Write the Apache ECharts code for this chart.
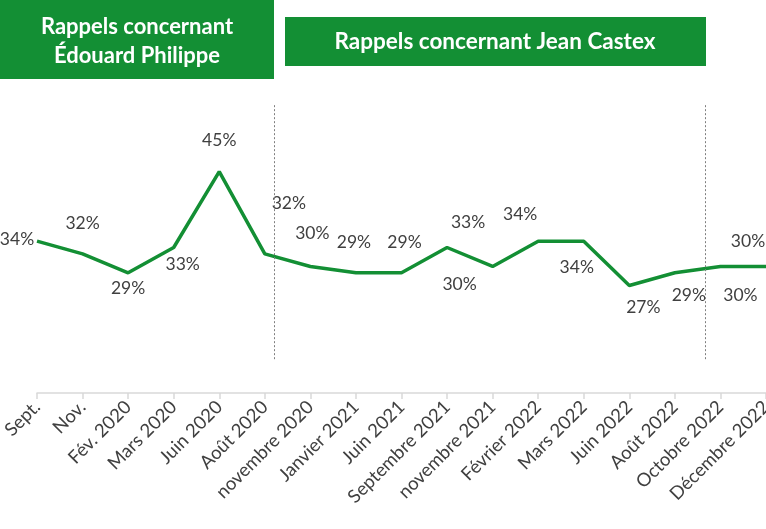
<!DOCTYPE html>
<html>
<head>
<meta charset="utf-8">
<script src="https://cdn.jsdelivr.net/npm/echarts@6/dist/echarts.min.js"></script>
<style>
  html, body { margin: 0; padding: 0; background: #fff; }
  #chart { width: 766px; height: 529px; }
</style>
</head>
<body>
<div id="chart"></div>
<script>
// categories and values (percent)
const months = ["Sept.", "Nov.", "Fév. 2020", "Mars 2020", "Juin 2020", "Août 2020",
  "novembre 2020", "Janvier 2021", "Juin 2021", "Septembre 2021", "novembre 2021",
  "Février 2022", "Mars 2022", "Juin 2022", "Août 2022", "Octobre 2022", "Décembre 2022"];
const rappels = [34, 32, 29, 33, 45, 32, 30, 29, 29, 33, 30, 34, 34, 27, 29, 30, 30];
// where each data label sits relative to its point: [dx, dy]
const labelOffsets = [
  [-20, -2], [0, -30], [0, 16], [9, 17], [0, -31], [24, -50], [2, -33], [-2, -30],
  [3, -30], [21, -25], [-33, 18], [-18, -27], [-7, 26], [14, 22], [14, 23], [20, 29], [-18, -25]
];
// period separators, as fractional category positions
const separators = [5.2, 14.67];
const headers = ["Rappels concernant\nÉdouard Philippe", "Rappels concernant Jean Castex"];

const green = "#138f34";
const txt = "#404040";
const font = "Lato, 'Open Sans', sans-serif";

const chart = echarts.init(document.getElementById("chart"));

const option = {
  animation: false,
  grid: { left: 37, right: 0, top: 102, bottom: 136, containLabel: false, outerBoundsMode: "none" },
  xAxis: [
    {
      type: "category",
      data: months,
      boundaryGap: false,
      axisLine: { lineStyle: { color: "#d9d9d9", width: 1.5 } },
      axisTick: { show: true, length: 6, lineStyle: { color: "#d9d9d9", width: 1.5 } },
      axisLabel: { rotate: 45, color: txt, fontSize: 18.5, fontFamily: font, margin: 11, interval: 0 }
    },
    { type: "value", min: 0, max: 16, show: false }
  ],
  yAxis: { type: "value", min: 10, max: 56, show: false },
  series: [
    {
      type: "line",
      data: rappels.map((v, i) => ({
        value: v,
        label: { offset: labelOffsets[i] }
      })),
      symbol: "circle",
      symbolSize: 1,
      showSymbol: true,
      itemStyle: { color: "transparent" },
      lineStyle: { color: green, width: 3.5 },
      label: {
        show: true,
        position: "inside",
        formatter: "{c}%",
        color: txt,
        fontSize: 17.5,
        fontFamily: font
      }
    },
    {
      // hidden helper series carrying the dashed separators
      type: "line",
      xAxisIndex: 1,
      data: [[0, null]],
      symbol: "none",
      markLine: {
        symbol: "none",
        silent: true,
        label: { show: false },
        lineStyle: { color: "#7f7f7f", type: [2, 2], width: 1 },
        data: separators.map(x => [{ coord: [x, 55.5] }, { coord: [x, 15.3] }])
      }
    }
  ],
  graphic: [
    { type: "rect", shape: { x: 0, y: 0, width: 274, height: 79 }, style: { fill: green } },
    {
      type: "text", x: 137, y: 41,
      style: { text: headers[0], fill: "#fff", font: "bold 22px " + font, align: "center", verticalAlign: "middle", lineHeight: 29 }
    },
    { type: "rect", shape: { x: 285, y: 17, width: 421, height: 49 }, style: { fill: green } },
    {
      type: "text", x: 495, y: 42,
      style: { text: headers[1], fill: "#fff", font: "bold 22.5px " + font, align: "center", verticalAlign: "middle" }
    }
  ]
};

chart.setOption(option);
</script>
</body>
</html>
